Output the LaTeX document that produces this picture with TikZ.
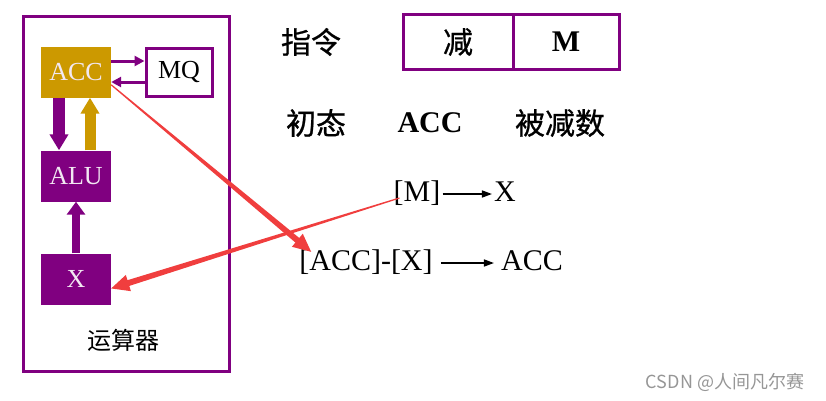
\documentclass[tikz,border=0pt]{standalone}
\usepackage{fontspec}
\setmainfont{Liberation Serif}
\newfontfamily\cjk[FakeBold=0.8]{Noto Sans CJK SC}
\newfontfamily\cjkmark{Noto Sans CJK SC}
\usepackage{xcolor}
\definecolor{regpurple}{RGB}{128, 0, 128}
\definecolor{accgold}{RGB}{204, 153, 0}
\definecolor{markred}{RGB}{240, 62, 62}
\definecolor{regtext}{RGB}{242, 232, 242}
\definecolor{wmgray}{RGB}{150, 150, 150}
\usepackage{tikz}
\usetikzlibrary{arrows.meta, calc, positioning}

\tikzset{
  reg/.style={minimum width=70pt, minimum height=51pt, inner sep=0pt,
    text=regtext, font=\fontsize{26}{26}\selectfont},
  field/.style={draw=regpurple, line width=3pt, minimum height=55pt,
    inner sep=0pt, outer sep=0pt},
  big/.style={font=\fontsize{30}{30}\selectfont},
  han/.style={font=\cjk\fontsize{#1}{#1}\selectfont},
  formula/.style={big, inner sep=2pt, text height=21pt, text depth=7pt},
  fat/.style={line width=#1, -{Triangle[length=16pt, width=18pt]}},
}
\newcommand\taperarrow[2]{%
  \fill[markred] ($(#1)!0.6pt!90:(#2)$)
    -- ($(#2)!18pt!(#1)!3pt!90:(#2)$)
    -- ($(#2)!18pt!(#1)!8.5pt!90:(#2)$)
    -- (#2)
    -- ($(#2)!18pt!(#1)!8.5pt!-90:(#2)$)
    -- ($(#2)!18pt!(#1)!3pt!-90:(#2)$)
    -- ($(#1)!0.6pt!-90:(#2)$) -- cycle;}

\begin{document}
\begin{tikzpicture}[x=1pt, y=-1pt]
  \useasboundingbox (0,0) rectangle (826,400);
  \draw[regpurple, line width=3pt] (23,16) rectangle (229,371);
  \node[reg, fill=accgold] (acc) at (76,72) {ACC};
  \node[reg, draw=regpurple, line width=3pt, text=black,
    minimum width=66pt, minimum height=48pt] (mq) at (179,72) {MQ};
  \node[reg, fill=regpurple] (alu) at (76,176) {ALU};
  \node[reg, fill=regpurple] (xreg) at (76,279) {X};
  \node[font=\cjkmark\fontsize{24}{24}\selectfont] (unit) at (123,340) {运算器};

  \node[han=30] (instr) at (311,42) {指令};
  \node[field, minimum width=110pt, han=30] (op) at (458,42) {减};
  \node[field, minimum width=106pt, big, right=0pt of op] (addr) {\textbf{M}};

  \node[han=30] (init) at (316,123) {初态};
  \node[big] (accb) at (430,123) {\textbf{ACC}};
  \node[han=30] (minuend) at (560,123) {被减数};

  \node[formula] (mm) at (417,194) {[M]};
  \node[formula] (xx) at (505,194) {X};
  \node[formula] (sub) at (366,263) {[ACC]-[X]};
  \node[formula] (res) at (532,263) {ACC};

  \node[font=\cjkmark\fontsize{18}{18}\selectfont, text=wmgray] (mark) at (725,382) {CSDN @人间凡尔赛};

  \path[regpurple, line width=3pt, -{Triangle[length=10pt, width=10pt]}]
    ($(acc.east)+(0,-11)$) edge ($(mq.west)+(0,-11)$)
    ($(mq.west)+(0,10)$) edge ($(acc.east)+(0,10)$);
  \draw[regpurple, fat=12pt] ($(acc.south)+(-17,0)$) -- ($(alu.north)+(-17,0)$);
  \draw[accgold, fat=11pt] ($(alu.north)+(14,0)$) -- ($(acc.south)+(14,0)$);
  \draw[regpurple, line width=8pt, -{Triangle[length=13pt, width=18pt]}]
    (xreg.north) -- (alu.south);

  \path[line width=1.5pt, -{Triangle[length=10pt, width=7pt]}]
    (mm) edge (xx)
    (sub) edge[shorten <=6pt, shorten >=5pt] (res);

  \coordinate (subtip) at ($(sub.north west)+(14,5)$);
  \coordinate (mmfoot) at ($(mm.west)+(8,4)$);
  \taperarrow{acc.-20}{subtip}
  \taperarrow{mmfoot}{xreg.-15}
\end{tikzpicture}
\end{document}
